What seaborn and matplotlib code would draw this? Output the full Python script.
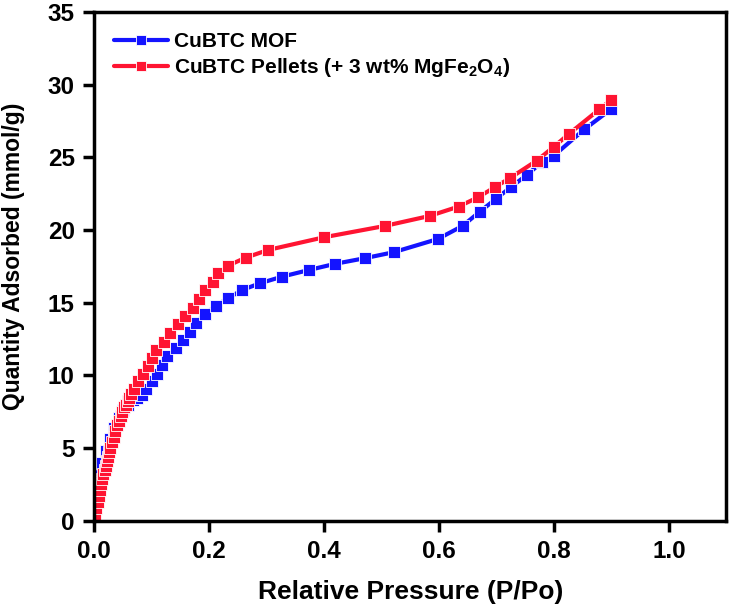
## IMPORTS
import numpy as np
import pandas as pd

import matplotlib
matplotlib.use('Agg')
import matplotlib.pyplot as plt
import seaborn as sns

## DATA
# CuBTC MOF isotherm
mof_p = [0.000, 0.013, 0.020, 0.027, 0.035, 0.043, 0.051, 0.059, 0.067, 0.075,
         0.083, 0.091, 0.100, 0.109, 0.118, 0.127, 0.143,
         0.154, 0.166, 0.177, 0.193, 0.212, 0.233, 0.258, 0.289, 0.327, 0.374,
         0.419, 0.471, 0.521, 0.598, 0.641, 0.671, 0.699, 0.726, 0.753, 0.780,
         0.800, 0.853, 0.899]
mof_q = [2.7, 4.0, 4.8, 5.6, 6.4, 7.1, 7.6, 8.0, 8.3, 8.45,
         8.65, 9.1, 9.6, 10.1, 10.75, 11.35, 11.88,
         12.45, 13.02, 13.64, 14.24, 14.79, 15.32, 15.89, 16.35, 16.80, 17.26,
         17.68, 18.07, 18.48, 19.39, 20.29, 21.27, 22.15, 22.99, 23.80, 24.71,
         25.13, 26.94, 28.31]

# CuBTC pellets (+ 3 wt% MgFe2O4) isotherm
pel_p = [0.000, 0.002, 0.004, 0.006, 0.008, 0.010, 0.012, 0.014, 0.016, 0.018,
         0.020, 0.022, 0.024, 0.026, 0.028, 0.031, 0.034, 0.037, 0.040, 0.043,
         0.046, 0.049, 0.052, 0.055, 0.058, 0.061, 0.064, 0.070,
         0.077, 0.085, 0.093, 0.100, 0.108, 0.121, 0.132, 0.145, 0.158, 0.172,
         0.183, 0.193, 0.206, 0.216, 0.233, 0.264, 0.303, 0.400, 0.506, 0.584,
         0.634, 0.668, 0.697, 0.723, 0.770, 0.800, 0.826, 0.879, 0.899]
pel_q = [0.0, 0.4, 0.9, 1.3, 1.7, 2.1, 2.5, 2.9, 3.2, 3.5,
         3.8, 4.1, 4.4, 4.7, 5.0, 5.4, 5.8, 6.2, 6.6, 6.9,
         7.2, 7.5, 7.8, 8.0, 8.25, 8.45, 8.7, 9.1,
         9.6, 10.1, 10.65, 11.19, 11.76, 12.33, 12.91, 13.53, 14.10, 14.67,
         15.27, 15.89, 16.46, 17.04, 17.56, 18.11, 18.64, 19.51, 20.29, 20.98,
         21.62, 22.26, 22.95, 23.57, 24.78, 25.74, 26.62, 28.31, 28.95]

labels = ['CuBTC MOF', 'CuBTC Pellets (+ 3 wt% MgFe$_2$O$_4$)']
colors = ['#1414ff', '#ff1432']
x_ticks = [0.0, 0.2, 0.4, 0.6, 0.8, 1.0]
y_ticks = [0, 5, 10, 15, 20, 25, 30, 35]

## STYLE
sns.set_style('ticks')
plt.rcParams['font.family'] = ['Liberation Sans', 'DejaVu Sans']
plt.rcParams['font.weight'] = 'bold'
plt.rcParams['mathtext.fontset'] = 'custom'
plt.rcParams['mathtext.rm'] = 'Liberation Sans:bold'
plt.rcParams['mathtext.default'] = 'rm'
for key in ['text.color', 'axes.labelcolor', 'xtick.color', 'ytick.color']:
    plt.rcParams[key] = 'black'

df = pd.concat([
    pd.DataFrame({'p': mof_p, 'q': mof_q, 'sample': labels[0]}),
    pd.DataFrame({'p': pel_p, 'q': pel_q, 'sample': labels[1]}),
], ignore_index=True)

## PLOT
fig, ax = plt.subplots(figsize=(7.3, 6.07), dpi=100)
fig.subplots_adjust(left=0.129, right=0.995, bottom=0.142, top=0.98)

sns.lineplot(data=df, x='p', y='q', hue='sample', palette=colors,
             marker='s', markersize=8, markeredgewidth=0.6,
             linewidth=3, sort=False, estimator=None, ax=ax)

ax.set_xlim(0, 1.1)
ax.set_ylim(0, 35)
ax.set_xticks(x_ticks)
ax.set_xticklabels([f'{t:.1f}' for t in x_ticks])
ax.set_yticks(y_ticks)
ax.tick_params(axis='both', which='major', direction='out', length=8, width=2.5,
               labelsize=17.5, pad=6)
for spine in ax.spines.values():
    spine.set_linewidth(2.5)
    spine.set_color('black')
    spine.set_visible(True)

ax.set_xlabel('Relative Pressure (P/Po)', fontsize=19, fontweight='bold', labelpad=12)
ax.set_ylabel('Quantity Adsorbed (mmol/g)', fontsize=16.5, fontweight='bold', labelpad=14)
ax.yaxis.set_label_coords(-0.11, 0.52)

leg = ax.legend(loc='upper left', bbox_to_anchor=(0.0, 1.0), frameon=False,
                fontsize=15, handlelength=2.6, handletextpad=0.3,
                labelspacing=0.25, borderaxespad=0.55)
for h in leg.legend_handles:
    h.set_markersize(7)
    h.set_linewidth(3)

fig.savefig('out.png', dpi=100)
